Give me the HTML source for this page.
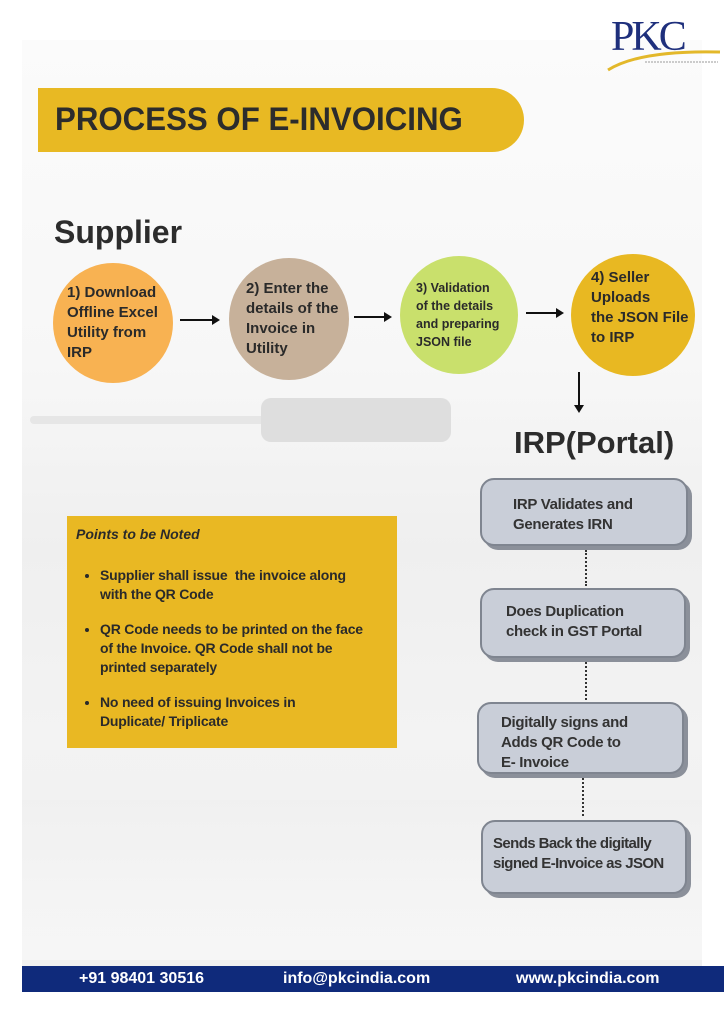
<!DOCTYPE html>
<html><head><meta charset="utf-8">
<style>
html,body{margin:0;padding:0}
body{width:724px;height:1024px;position:relative;overflow:hidden;background:#fff;font-family:"Liberation Sans",sans-serif;color:#2a2a2a}
.bg{position:absolute;left:22px;top:40px;width:680px;height:926px;background:linear-gradient(180deg,#fbfbfb 0%,#f7f7f7 35%,#efefef 55%,#f3f3f3 75%,#f0f0f0 100%)}
.a{position:absolute}
.c{position:absolute;border-radius:50%;display:flex;align-items:center;font-weight:bold;font-size:15px;line-height:20px}
.box{position:absolute;background:#c9ced8;border:2px solid #7f8590;border-radius:14px;box-shadow:4px 4px 0 #8b909a;font-weight:bold;font-size:15px;line-height:20px;color:#333;box-sizing:border-box;white-space:nowrap;letter-spacing:-0.3px}
.dot{position:absolute;width:0;border-left:2px dotted #333}
.hl{position:absolute;height:2px;background:#111}
.ah{position:absolute;width:0;height:0;border-top:5px solid transparent;border-bottom:5px solid transparent;border-left:8px solid #111}
li{margin-bottom:16px}
</style></head><body>
<div class="bg"></div>
<div class="a" style="left:30px;top:416px;width:240px;height:8px;background:#e6e6e6;border-radius:4px"></div>
<div class="a" style="left:261px;top:398px;width:190px;height:44px;background:#dedede;border-radius:10px"></div>
<div class="a" style="left:22px;top:800px;width:680px;height:160px;background:linear-gradient(180deg,#f0f0f0,#f8f8f8);opacity:.8"></div>

<!-- logo -->
<div class="a" style="left:611px;top:14px;font-family:'Liberation Serif',serif;font-size:42px;color:#1e2f7c;letter-spacing:-3px;line-height:46px">PKC</div>
<svg class="a" style="left:600px;top:40px" width="124" height="36"><path d="M8 30 Q40 10 120 12" stroke="#e3b82a" stroke-width="3" fill="none"/><line x1="45" y1="22" x2="118" y2="22" stroke="#bbb" stroke-width="1.5" stroke-dasharray="2 1"/></svg>

<!-- title -->
<div class="a" style="left:38px;top:88px;width:486px;height:64px;background:#e8b923;border-radius:0 32px 32px 0"></div>
<div class="a" style="left:55px;top:99px;font-size:32px;font-weight:bold;color:#2c2c2c;line-height:40px;transform:scaleX(.976);transform-origin:left;white-space:nowrap">PROCESS OF E-INVOICING</div>

<div class="a" style="left:54px;top:212px;font-size:32px;font-weight:bold;color:#2c2c2c;line-height:40px">Supplier</div>

<div class="c" style="left:53px;top:263px;width:120px;height:120px;background:#f8b252"><div style="padding-left:14px">1) Download<br>Offline Excel<br>Utility from<br>IRP</div></div>
<div class="c" style="left:229px;top:258px;width:120px;height:122px;background:#c7b19a"><div style="padding-left:17px">2) Enter the<br>details of the<br>Invoice in<br>Utility</div></div>
<div class="c" style="left:400px;top:256px;width:118px;height:118px;background:#c9e06c;font-size:12.5px;line-height:18px"><div style="padding-left:16px">3) Validation<br>of the details<br>and preparing<br>JSON file</div></div>
<div class="c" style="left:571px;top:254px;width:124px;height:122px;background:#e8b822"><div style="padding-left:20px;margin-top:-14px">4) Seller<br>Uploads<br>the JSON File<br>to IRP</div></div>

<div class="hl" style="left:180px;top:319px;width:34px"></div><div class="ah" style="left:212px;top:315px"></div>
<div class="hl" style="left:354px;top:316px;width:31px"></div><div class="ah" style="left:384px;top:312px"></div>
<div class="hl" style="left:526px;top:312px;width:31px"></div><div class="ah" style="left:556px;top:308px"></div>
<div class="a" style="left:578px;top:372px;width:2px;height:34px;background:#111"></div>
<div class="a" style="left:574px;top:405px;width:0;height:0;border-left:5px solid transparent;border-right:5px solid transparent;border-top:8px solid #111"></div>

<div class="a" style="left:514px;top:424px;font-size:31px;font-weight:bold;color:#2c2c2c;line-height:38px;white-space:nowrap">IRP(Portal)</div>

<div class="box" style="left:480px;top:478px;width:208px;height:68px;padding:15px 0 0 31px">IRP Validates and<br>Generates IRN</div>
<div class="dot" style="left:585px;top:550px;height:36px"></div>
<div class="box" style="left:480px;top:588px;width:206px;height:70px;padding:12px 0 0 24px">Does Duplication<br>check in GST Portal</div>
<div class="dot" style="left:585px;top:662px;height:38px"></div>
<div class="box" style="left:477px;top:702px;width:207px;height:72px;padding:9px 0 0 22px">Digitally signs and<br>Adds QR Code to<br>E- Invoice</div>
<div class="dot" style="left:582px;top:778px;height:38px"></div>
<div class="box" style="left:481px;top:820px;width:206px;height:74px;padding:12px 0 0 10px;letter-spacing:-0.6px">Sends Back the digitally<br>signed E-Invoice as JSON</div>

<!-- notes -->
<div class="a" style="left:67px;top:516px;width:330px;height:232px;background:#e9b823"></div>
<div class="a" style="left:76px;top:525px;font-size:14px;font-weight:bold;font-style:italic;line-height:18px">Points to be Noted</div>
<ul class="a" style="left:66px;top:566px;width:330px;margin:0;padding-left:34px;font-size:14px;font-weight:bold;line-height:19px;white-space:nowrap;letter-spacing:-0.2px">
<li>Supplier shall issue&nbsp; the invoice along<br>with the QR Code</li>
<li>QR Code needs to be printed on the face<br>of the Invoice. QR Code shall not be<br>printed separately</li>
<li>No need of issuing Invoices in<br>Duplicate/ Triplicate</li>
</ul>

<!-- footer -->
<div class="a" style="left:22px;top:966px;width:702px;height:26px;background:#0f2a7b"></div>
<div class="a" style="left:79px;top:968px;font-size:16px;font-weight:bold;color:#fff;line-height:22px">+91 98401 30516</div>
<div class="a" style="left:283px;top:968px;font-size:16px;font-weight:bold;color:#fff;line-height:22px">info@pkcindia.com</div>
<div class="a" style="left:516px;top:968px;font-size:16px;font-weight:bold;color:#fff;line-height:22px">www.pkcindia.com</div>
</body></html>
